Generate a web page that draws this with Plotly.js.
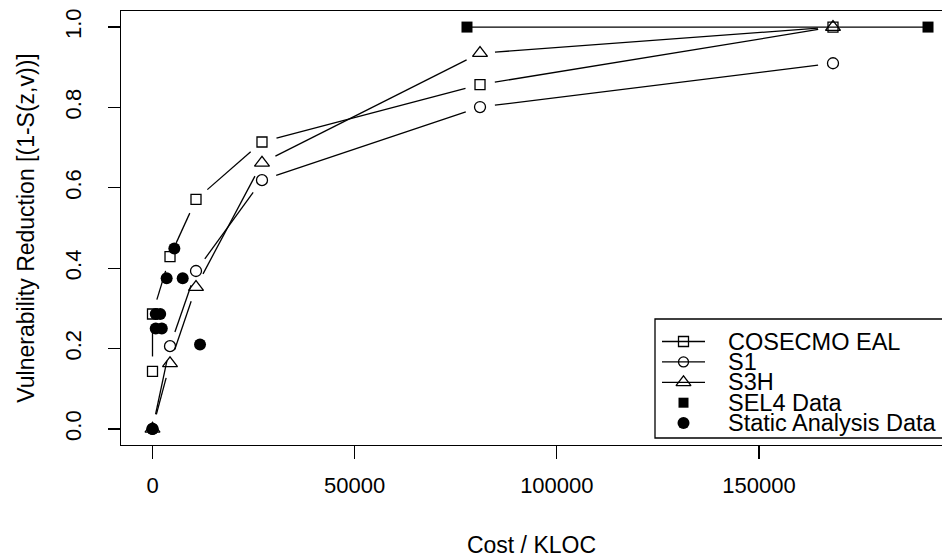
<!DOCTYPE html>
<html>
<head>
<meta charset="utf-8">
<script src="https://cdn.plot.ly/plotly-3.0.1.min.js"></script>
<style>html,body{margin:0;padding:0;background:#fff;overflow:hidden}</style>
</head>
<body>
<div id="chart" style="width:942px;height:558px"></div>
<script>
// ---- data ----
const cosecmoX = [0, 0, 4330, 10760, 27080, 81000, 168300];
const cosecmoY = [0.143, 0.286, 0.429, 0.571, 0.714, 0.857, 1.0];
const s1X = [0, 4330, 10760, 27080, 81000, 168300];
const s1Y = [0, 0.206, 0.393, 0.619, 0.801, 0.910];
const s3hX = [0, 4330, 10760, 27080, 81000, 168300];
const s3hY = [0, 0.163, 0.353, 0.662, 0.935, 1.0];
const sel4X = [77780, 191800];
const sel4Y = [1, 1];
const staticX = [0, 800, 1900, 800, 2300, 3500, 5400, 7470, 11750];
const staticY = [0, 0.286, 0.286, 0.25, 0.25, 0.375, 0.449, 0.375, 0.21];
const xTickVals = [0, 50000, 100000, 150000];
const xTickText = ['0', '50000', '100000', '150000'];
const yTickVals = [0, 0.2, 0.4, 0.6, 0.8, 1.0];
const yTickText = ['0.0', '0.2', '0.4', '0.6', '0.8', '1.0'];
const legendLabels = ['COSECMO EAL', 'S1', 'S3H', 'SEL4 Data', 'Static Analysis Data'];

// ---- styling / layout constants ----
const FONT = 'Liberation Sans, Arial, Helvetica, sans-serif';
const LW = 1.3;
const PLOT = {l: 121, r: 942, t: 11, b: 445};
const X_RANGE = [-7790, 195260];
const Y_RANGE = [-0.04, 1.04];
const GAP = 15; // R type="b": line stops this many px short of each point

const kx = (PLOT.r - PLOT.l) / (X_RANGE[1] - X_RANGE[0]);
const ky = (PLOT.b - PLOT.t) / (Y_RANGE[1] - Y_RANGE[0]);

// line segments between consecutive points, shortened at both ends (R's type="b" look)
function gappedLine(x, y) {
  const gx = [], gy = [];
  for (let i = 0; i < x.length - 1; i++) {
    const dxp = (x[i + 1] - x[i]) * kx, dyp = (y[i + 1] - y[i]) * ky;
    const d = Math.hypot(dxp, dyp);
    if (d <= 2 * GAP) continue;
    const f = GAP / d;
    gx.push(x[i] + (x[i + 1] - x[i]) * f, x[i + 1] - (x[i + 1] - x[i]) * f, null);
    gy.push(y[i] + (y[i + 1] - y[i]) * f, y[i + 1] - (y[i + 1] - y[i]) * f, null);
  }
  return {x: gx, y: gy, type: 'scatter', mode: 'lines', connectgaps: false,
    line: {color: '#000', width: LW}, hoverinfo: 'skip'};
}
function pts(x, y, symbol, size, filled) {
  return {x: x, y: y, type: 'scatter', mode: 'markers',
    marker: {symbol: symbol, size: size, color: '#000', line: {color: '#000', width: filled ? 0 : LW}}};
}

const traces = [
  gappedLine(cosecmoX, cosecmoY), pts(cosecmoX, cosecmoY, 'square-open', 10, false),
  gappedLine(s1X, s1Y), pts(s1X, s1Y, 'circle-open', 11, false),
  gappedLine(s3hX, s3hY), pts(s3hX, s3hY, 'triangle-up-open', 13, false),
  {x: sel4X, y: sel4Y, type: 'scatter', mode: 'lines', line: {color: '#000', width: LW}, hoverinfo: 'skip'},
  pts(sel4X, sel4Y, 'square', 11, true),
  pts(staticX, staticY, 'circle', 12, true)
];

// ---- R-style legend, drawn on a pixel-space overlay axis ----
const LEG = {left: 655, right: 1000, top: 319, bottom: 438, row0: 341.5, step: 20.4,
  lineX0: 662, lineX1: 705, symX: 683.5, textX: 726};
const legendStyle = [
  {sym: 'square-open', size: 10, line: true, fill: false},
  {sym: 'circle-open', size: 10, line: true, fill: false},
  {sym: 'triangle-up-open', size: 13, line: true, fill: false},
  {sym: 'square', size: 10, line: false, fill: true},
  {sym: 'circle', size: 12, line: false, fill: true}
];
const annotations = [];
legendLabels.forEach(function (lab, i) {
  const yy = LEG.row0 + i * LEG.step;
  const st = legendStyle[i];
  if (st.line) {
    traces.push({x: [LEG.lineX0, LEG.lineX1], y: [yy, yy], xaxis: 'x2', yaxis: 'y2',
      type: 'scatter', mode: 'lines', line: {color: '#000', width: LW}, hoverinfo: 'skip'});
  }
  traces.push({x: [LEG.symX], y: [yy], xaxis: 'x2', yaxis: 'y2', type: 'scatter', mode: 'markers',
    marker: {symbol: st.sym, size: st.size, color: '#000', line: {color: '#000', width: st.fill ? 0 : LW}},
    hoverinfo: 'skip'});
  annotations.push({xref: 'x2', yref: 'y2', x: LEG.textX, y: yy, text: lab, showarrow: false,
    xanchor: 'left', yanchor: 'middle', font: {family: FONT, size: 23.5, color: '#000'}});
});

const layout = {
  width: 942, height: 558,
  margin: {l: PLOT.l, r: 942 - PLOT.r, t: PLOT.t, b: 558 - PLOT.b, pad: 0},
  paper_bgcolor: '#fff', plot_bgcolor: '#fff',
  showlegend: false,
  font: {family: FONT, color: '#000'},
  xaxis: {
    range: X_RANGE, showgrid: false, zeroline: false,
    showline: true, mirror: true, linecolor: '#000', linewidth: LW,
    ticks: 'outside', ticklen: 13, tickwidth: LW, tickcolor: '#000',
    tickvals: xTickVals, ticktext: xTickText,
    tickfont: {family: FONT, size: 22, color: '#000'},
    ticklabelstandoff: 7,
    title: {text: 'Cost / KLOC', font: {family: FONT, size: 23, color: '#000'}, standoff: 40},
    automargin: false
  },
  yaxis: {
    range: Y_RANGE, showgrid: false, zeroline: false,
    showline: true, mirror: false, linecolor: '#000', linewidth: LW,
    ticks: 'outside', ticklen: 12, tickwidth: LW, tickcolor: '#000',
    tickvals: yTickVals, ticktext: yTickText, tickangle: -90,
    tickfont: {family: FONT, size: 22, color: '#000'},
    ticklabelstandoff: 18,
    title: {text: 'Vulnerability Reduction [(1-S(z,v))]', font: {family: FONT, size: 23, color: '#000'}, standoff: 20},
    automargin: false
  },
  xaxis2: {overlaying: 'x', range: [PLOT.l, PLOT.r], visible: false, fixedrange: true},
  yaxis2: {overlaying: 'y', range: [PLOT.b, PLOT.t], visible: false, fixedrange: true},
  shapes: [{type: 'rect', xref: 'x2', yref: 'y2', x0: LEG.left, x1: LEG.right, y0: LEG.top, y1: LEG.bottom,
    line: {color: '#000', width: LW}, fillcolor: '#fff', layer: 'below'}],
  annotations: annotations
};

Plotly.newPlot('chart', traces, layout, {staticPlot: true, displayModeBar: false});
</script>
</body>
</html>
